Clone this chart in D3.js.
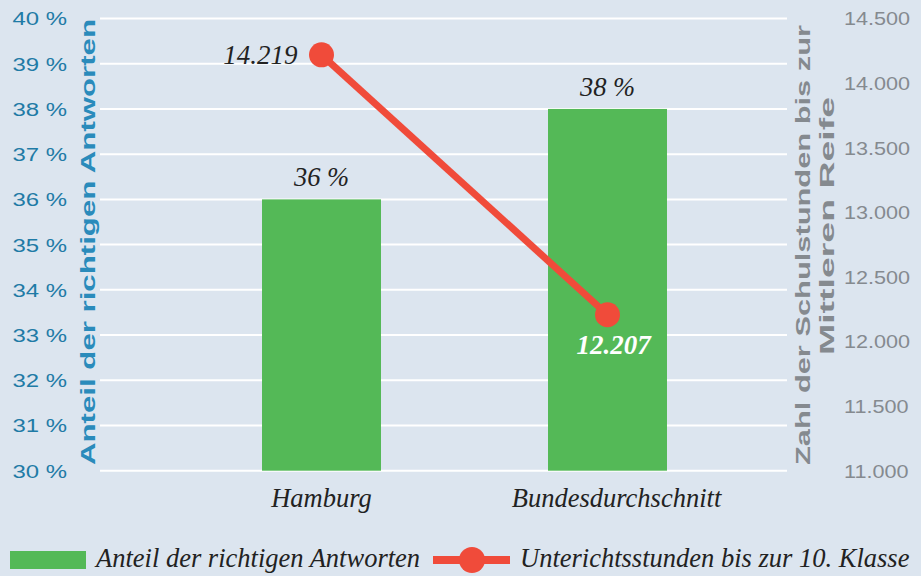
<!DOCTYPE html>
<html><head><meta charset="utf-8">
<script src="https://cdn.jsdelivr.net/npm/d3@7/dist/d3.min.js"></script>
<style>body{margin:0;background:#dce5ef}svg{display:block}</style>
</head><body>
<svg id="c" width="921" height="576"></svg>
<script>
const categories = ["Hamburg", "Bundesdurchschnitt"];
const shareCorrect = [36, 38];           // %
const lessonHours = [14219, 12207];      // Unterrichtsstunden
const shareLabels = ["36 %", "38 %"];
const hourLabels = ["14.219", "12.207"];
const leftTicks = [30,31,32,33,34,35,36,37,38,39,40];
const rightTicks = [11000,11500,12000,12500,13000,13500,14000,14500];
const leftTitle = "Anteil der richtigen Antworten";
const rightTitle = ["Zahl der Schulstunden bis zur", "Mittleren Reife"];
const legendLabels = ["Anteil der richtigen Antworten", "Unterichtsstunden bis zur 10. Klasse"];

(function () {
const svg = d3.select("#c");
const W = 921, H = 576;
svg.append("rect").attr("width", W).attr("height", H).attr("fill", "#dce5ef");

const plotL = 100, plotR = 787, plotTop = 18.5, plotBottom = 470.7;
const green = "#54b957", red = "#f04b3a";
const SERIF = "'Liberation Serif', 'Times New Roman', serif";
const SANS = "'Liberation Sans', Arial, sans-serif";

const x = d3.scaleBand().domain(categories).range([178.5, 750.5]).paddingInner(0.584).paddingOuter(0.292);
const yL = d3.scaleLinear().domain([30, 40]).range([plotBottom, plotTop]);
const yR = d3.scaleLinear().domain([11000, 14500]).range([plotBottom, plotTop]);

function widen(sel, k) {
  sel.each(function () {
    const len = this.getComputedTextLength();
    d3.select(this).attr("textLength", len * k).attr("lengthAdjust", "spacingAndGlyphs");
  });
}

// gridlines
svg.append("g").selectAll("line").data(leftTicks).join("line")
  .attr("x1", plotL).attr("x2", plotR)
  .attr("y1", d => yL(d)).attr("y2", d => yL(d))
  .attr("stroke", "#fff").attr("stroke-width", 2);

// left axis
const fmtPct = d => d + " %";
const gL = svg.append("g").attr("transform", `translate(67,0)`)
  .call(d3.axisLeft(yL).tickValues(leftTicks).tickFormat(fmtPct).tickSize(0).tickPadding(0));
gL.select(".domain").remove();
gL.selectAll("text").attr("font-family", SANS).attr("font-size", 18)
  .attr("fill", "#1f7ba6").attr("dy", "0.36em");
widen(gL.selectAll("text"), 1.33);

// right axis
const fmtR = d => d3.format(",")(d).replace(",", ".");
const gR = svg.append("g").attr("transform", `translate(844,0)`)
  .call(d3.axisRight(yR).tickValues(rightTicks).tickFormat(fmtR).tickSize(0).tickPadding(0));
gR.select(".domain").remove();
gR.selectAll("text").attr("font-family", SANS).attr("font-size", 18)
  .attr("fill", "#858a8f").attr("dy", "0.36em");
widen(gR.selectAll("text"), 1.2);

// axis titles
svg.append("text").attr("transform", "translate(95,242) rotate(-90)")
  .attr("text-anchor", "middle").attr("font-family", SANS)
  .attr("font-weight", "bold").attr("font-size", 21).attr("fill", "#2a8bbb")
  .attr("textLength", 446).attr("lengthAdjust", "spacingAndGlyphs").text(leftTitle);

svg.append("text").attr("transform", "translate(810,245) rotate(-90)")
  .attr("text-anchor", "middle").attr("font-family", SANS)
  .attr("font-weight", "bold").attr("font-size", 21).attr("fill", "#858a8f")
  .attr("textLength", 440).attr("lengthAdjust", "spacingAndGlyphs").text(rightTitle[0]);
svg.append("text").attr("transform", "translate(834,226) rotate(-90)")
  .attr("text-anchor", "middle").attr("font-family", SANS)
  .attr("font-weight", "bold").attr("font-size", 21).attr("fill", "#858a8f")
  .attr("textLength", 258).attr("lengthAdjust", "spacingAndGlyphs").text(rightTitle[1]);

// bars
svg.append("g").selectAll("rect").data(categories).join("rect")
  .attr("x", d => x(d)).attr("width", x.bandwidth())
  .attr("y", (d, i) => yL(shareCorrect[i]))
  .attr("height", (d, i) => yL(30) - yL(shareCorrect[i]))
  .attr("fill", green);

// bar value labels
svg.append("g").selectAll("text").data(categories).join("text")
  .attr("x", d => x(d) + x.bandwidth() / 2)
  .attr("y", (d, i) => yL(shareCorrect[i]) - 13)
  .attr("text-anchor", "middle").attr("font-family", SERIF)
  .attr("font-style", "italic").attr("font-size", 26.5).attr("fill", "#222")
  .text((d, i) => shareLabels[i]);

// category labels
svg.append("g").selectAll("text").data(categories).join("text")
  .attr("x", (d, i) => x(d) + x.bandwidth() / 2 + (i === 1 ? 9 : 0))
  .attr("y", 507)
  .attr("text-anchor", "middle").attr("font-family", SERIF)
  .attr("font-style", "italic").attr("font-size", 26.5).attr("fill", "#222")
  .text(d => d);

// line
const cx = d => x(d) + x.bandwidth() / 2;
const line = d3.line().x(d => cx(d)).y((d, i) => yR(lessonHours[i]));
svg.append("path").datum(categories).attr("d", line)
  .attr("fill", "none").attr("stroke", red).attr("stroke-width", 7);
svg.append("g").selectAll("circle").data(categories).join("circle")
  .attr("cx", d => cx(d)).attr("cy", (d, i) => yR(lessonHours[i])).attr("r", 12.5)
  .attr("fill", red);

// line labels
svg.append("text").attr("x", cx(categories[0]) - 24).attr("y", yR(lessonHours[0]) + 9)
  .attr("text-anchor", "end").attr("font-family", SERIF)
  .attr("font-style", "italic").attr("font-size", 27).attr("fill", "#222").text(hourLabels[0]);
svg.append("text").attr("x", cx(categories[1]) + 6).attr("y", yR(lessonHours[1]) + 39)
  .attr("text-anchor", "middle").attr("font-family", SERIF)
  .attr("font-style", "italic").attr("font-weight", "bold").attr("font-size", 27).attr("fill", "#fff").text(hourLabels[1]);

// legend
const lg = svg.append("g");
lg.append("rect").attr("x", 10).attr("y", 551).attr("width", 76).attr("height", 18).attr("fill", green);
lg.append("text").attr("x", 96).attr("y", 567).attr("font-family", SERIF)
  .attr("font-style", "italic").attr("font-size", 26.5).attr("fill", "#222").text(legendLabels[0]);
lg.append("line").attr("x1", 433).attr("x2", 510).attr("y1", 560).attr("y2", 560)
  .attr("stroke", red).attr("stroke-width", 8);
lg.append("circle").attr("cx", 472).attr("cy", 560).attr("r", 13).attr("fill", red);
lg.append("text").attr("x", 520).attr("y", 567).attr("font-family", SERIF)
  .attr("font-style", "italic").attr("font-size", 26.5).attr("fill", "#222").text(legendLabels[1]);
})();
</script>
</body></html>
